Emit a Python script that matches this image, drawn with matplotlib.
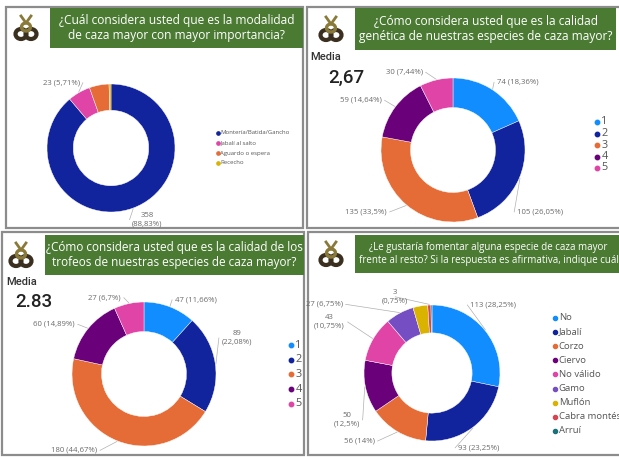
import matplotlib
matplotlib.use("Agg")
import matplotlib.pyplot as plt
from matplotlib.patches import Rectangle, Ellipse
import numpy as np

W, H = 619, 457

# ---- data ----
mod_labels = ["Montería/Batida/Gancho", "Jabalí al salto", "Aguardo o espera", "Rececho"]
mod_values = [358, 23, 20, 2]

gen_labels = ["1", "2", "3", "4", "5"]
gen_values = [74, 105, 135, 59, 30]
gen_mean = "2,67"

tro_labels = ["1", "2", "3", "4", "5"]
tro_values = [47, 89, 180, 60, 27]
tro_mean = "2.83"

esp_labels = ["No", "Jabalí", "Corzo", "Ciervo", "No válido", "Gamo", "Muflón", "Cabra montés", "Arruí"]
esp_values = [113, 93, 56, 50, 43, 27, 14, 3, 1]

titles = ["¿Cuál considera usted que es la modalidad\nde caza mayor con mayor importancia?",
          "¿Cómo considera usted que es la calidad\ngenética de nuestras especies de caza mayor?",
          "¿Cómo considera usted que es la calidad de los\ntrofeos de nuestras especies de caza mayor?",
          "¿Le gustaría fomentar alguna especie de caza mayor\nfrente al resto? Si la respuesta es afirmativa, indique cuál"]

pbi = ["#118DFF", "#12239E", "#E66C37", "#6B007B", "#E044A7", "#744EC2", "#D9B300", "#D64550", "#197278"]
mod_colors = ["#12239E", "#E044A7", "#E66C37", "#D9B300"]
green = "#4B7A33"
lblcol = "#6b6b6b"

fig = plt.figure(figsize=(W / 100, H / 100), dpi=100)
fig.patch.set_facecolor("white")
bg = fig.add_axes([0, 0, 1, 1])
bg.set_xlim(0, W)
bg.set_ylim(H, 0)
bg.axis("off")


def fmt(v, tot):
    p = round(v / tot * 100, 2)
    s = ("%.2f" % p).rstrip("0").rstrip(".")
    return "%d (%s%%)" % (v, s.replace(".", ","))


def logo(x, y):
    # rough stand-in for the emblem
    bg.add_patch(Ellipse((x - 5, y + 6), 11, 10, fc="none", ec="#3b3020", lw=3.0))
    bg.add_patch(Ellipse((x + 5, y + 6), 11, 10, fc="none", ec="#3b3020", lw=3.0))
    bg.add_patch(Ellipse((x, y - 1), 9, 8, fc="none", ec="#8a7a3a", lw=2.4))
    bg.plot([x - 5, x, x + 5], [y - 12, y - 5, y - 12], color="#8a7a3a", lw=2.0)


def panel(x0, y0, x1, y1, tx0, ty0, tx1, ty1, title, fs):
    bg.add_patch(Rectangle((x0, y0), x1 - x0, y1 - y0, fc="white", ec="#8c8c8c", lw=1.6))
    bg.add_patch(Rectangle((tx0, ty0), tx1 - tx0, ty1 - ty0, fc=green, ec="none"))
    t = bg.text((tx0 + tx1) / 2, (ty0 + ty1) / 2, title, color="white", fontsize=fs,
                family="Open Sans", ha="center", va="center", linespacing=1.25)
    t.set_clip_path(Rectangle((tx0, ty0), tx1 - tx0, ty1 - ty0, transform=bg.transData))
    logo(tx0 - 24, (ty0 + ty1) / 2)


def donut(cx, cy, r, values, colors, lpos, show=None):
    R = 2.0
    ax = fig.add_axes([(cx - R * r) / W, 1 - (cy + R * r) / H, 2 * R * r / W, 2 * R * r / H])
    wedges, _ = ax.pie(values, colors=colors, startangle=90, counterclock=False, radius=1,
                       wedgeprops=dict(width=0.41, edgecolor="white", linewidth=0.3))
    ax.set_xlim(-R, R)
    ax.set_ylim(-R, R)
    ax.axis("off")
    tot = sum(values)
    for i, w in enumerate(wedges):
        if show is not None and i not in show:
            continue
        tx, ty, ha, txt = lpos[i]
        if txt is None:
            txt = fmt(values[i], tot)
        a = np.deg2rad((w.theta1 + w.theta2) / 2)
        px, py = np.cos(a) * 1.01, np.sin(a) * 1.01
        ex = tx - 0.04 if ha == "left" else (tx + 0.04 if ha == "right" else tx)
        ax.plot([px, ex], [py, ty], color="#b0b0b0", lw=0.5, clip_on=False)
        ax.text(tx, ty, txt, fontsize=5.6, color=lblcol, ha=ha, va="center",
                family="Open Sans", linespacing=1.3, clip_on=False, multialignment="center")
    return ax


def legend(x, y, labels, colors, step, fs):
    for i, (lab, c) in enumerate(zip(labels, colors)):
        bg.scatter([x], [y + i * step], s=fs * 1.3, color=c, zorder=5)
        bg.text(x + fs * 0.55, y + i * step, lab, fontsize=fs, color="#555555",
                family="Open Sans", va="center", ha="left")


# panels
panel(6, 7, 303, 228, 50, 8, 303, 48, titles[0], 8.6)
panel(307, 7, 622, 228, 355, 8, 616, 50, titles[1], 8.6)
panel(2, 232, 304, 455, 45, 235, 304, 275, titles[2], 8.5)
panel(308, 232, 622, 455, 355, 235, 622, 273, titles[3], 7.0)

# chart 1
lp1 = [(0.33, -1.12, "left", "358\n(88,83%)"), (-0.48, 1.02, "right", None), None, None]
donut(111, 148, 64, mod_values, mod_colors, lp1, show=[0, 1])
legend(218, 133, mod_labels, mod_colors, 10, 4.3)

# chart 2
lp2 = [(0.61, 0.94, "left", None), (0.89, -0.86, "left", None), (-0.92, -0.86, "right", None),
       (-0.99, 0.69, "right", None), (-0.42, 1.08, "right", None)]
donut(453, 150, 72, gen_values, pbi[:5], lp2)
legend(597, 122, gen_labels, pbi[:5], 11.5, 7.8)
bg.text(310, 57, "Media", fontsize=8, color="#333333", family="Roboto", weight="medium", va="center")
bg.text(328, 78, gen_mean, fontsize=13.5, color="#222222", family="Roboto", weight="medium", va="center")

# chart 3
lp3 = [(0.43, 1.03, "left", None), (1.08, 0.5, "left", "89\n(22,08%)"), (-0.65, -1.06, "right", None),
       (-0.96, 0.69, "right", None), (-0.32, 1.06, "right", None)]
donut(144, 374, 72, tro_values, pbi[:5], lp3)
legend(291, 345, tro_labels, pbi[:5], 14.7, 7.8)
bg.text(6, 282, "Media", fontsize=8, color="#333333", family="Roboto", weight="medium", va="center")
bg.text(15, 302, tro_mean, fontsize=13.5, color="#222222", family="Roboto", weight="medium", va="center")

# chart 4
lp4 = [(0.56, 1.0, "left", None), (0.38, -1.1, "left", None), (-0.84, -1.0, "right", None),
       (-1.06, -0.69, "right", "50\n(12,5%)"), (-1.28, 0.75, "right", "43\n(10,75%)"),
       (-1.31, 1.01, "right", None), None, (-0.54, 1.12, "center", "3\n(0,75%)"), None]
donut(432, 373, 68, esp_values, pbi, lp4, show=[0, 1, 2, 3, 4, 5, 7])
legend(555, 318, esp_labels, pbi, 14.1, 6.8)

fig.savefig("out.png", dpi=100)
